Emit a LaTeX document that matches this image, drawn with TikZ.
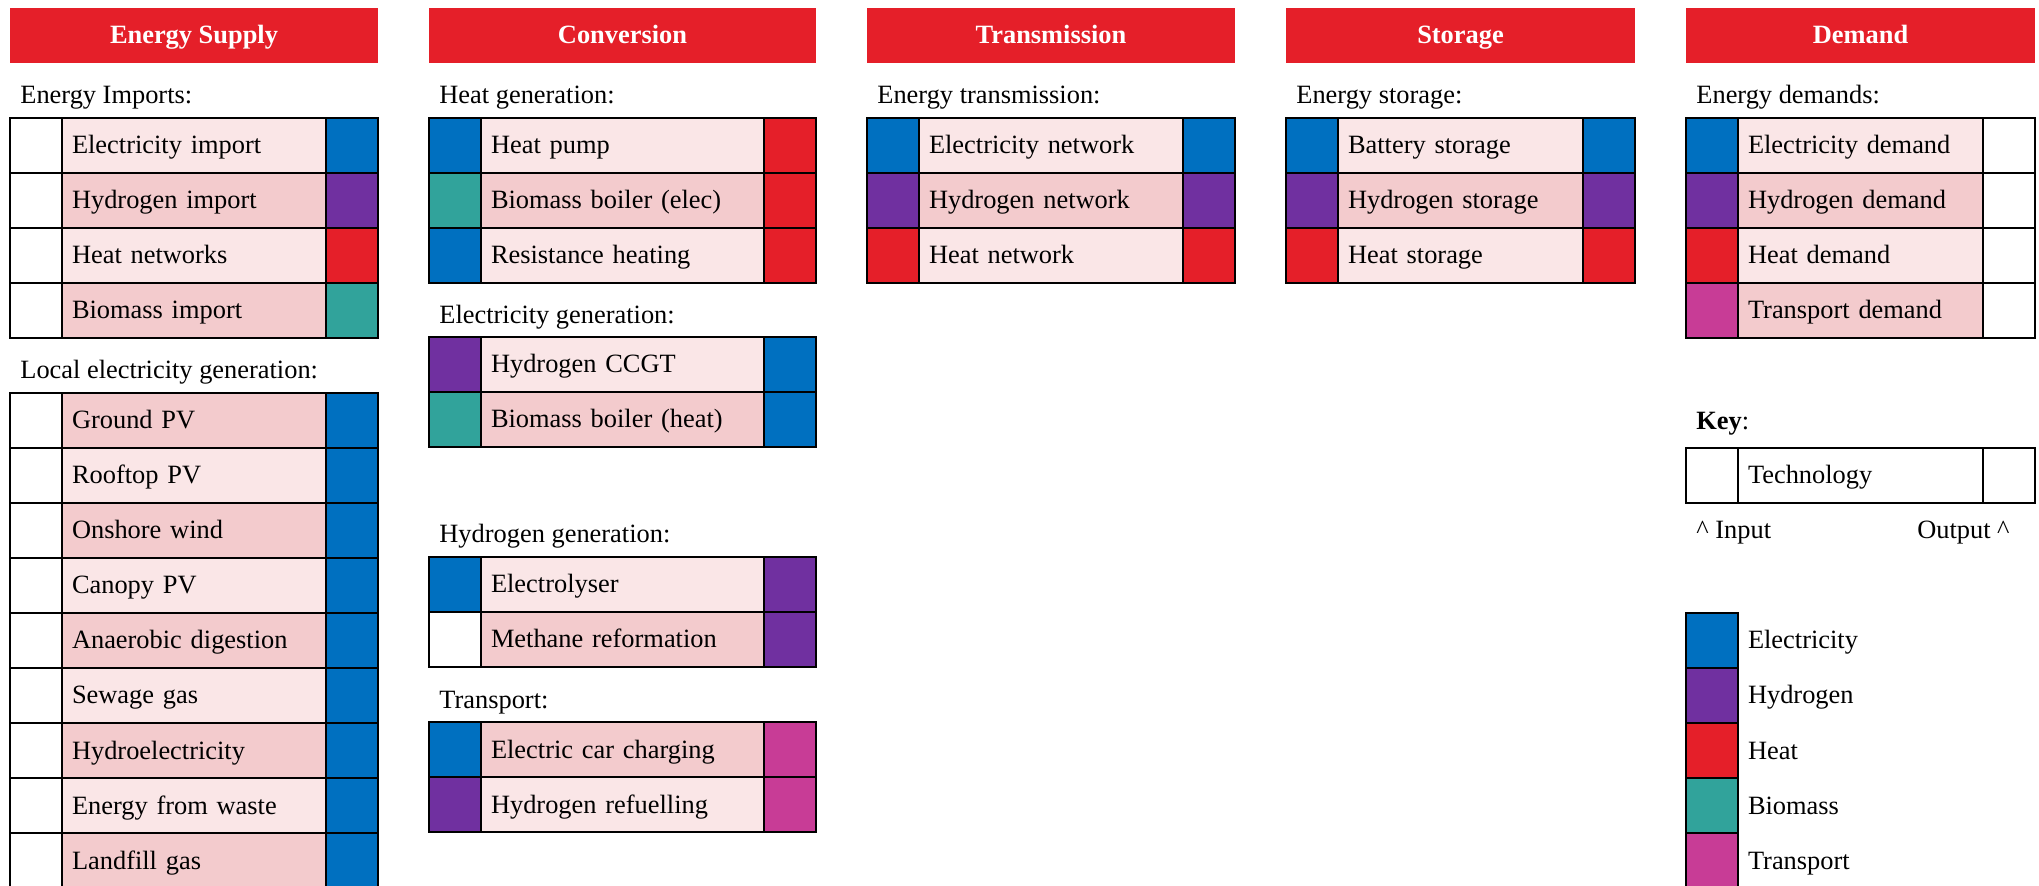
\documentclass[tikz,border=0pt]{standalone}
\usepackage{fontspec}
\setmainfont{Liberation Serif}
\usepackage{xcolor}
\usepackage{tikz}
\usetikzlibrary{positioning}
\definecolor{hdrred}{HTML}{E51F29}
\definecolor{elecblue}{HTML}{0070C0}
\definecolor{hydpurple}{HTML}{7030A0}
\definecolor{heatred}{HTML}{E51F29}
\definecolor{bioteal}{HTML}{31A39B}
\definecolor{transpink}{HTML}{C83C96}
\definecolor{rowlight}{HTML}{FAE6E7}
\definecolor{rowdark}{HTML}{F3CBCD}
\tikzset{
  basefont/.style={font=\fontsize{13.2pt}{16pt}\selectfont},
  header/.style={basefont,fill=hdrred,text=white,font=\fontsize{13.2pt}{16pt}\selectfont\bfseries,
    minimum height=27.5pt,inner sep=0pt,outer sep=0pt,anchor=north west,
    text height=0.95em,text depth=0.1em},
  grouplabel/.style={basefont,inner sep=0pt,anchor=base west},
  incell/.style={draw,line width=1.2pt,minimum width=26pt,minimum height=27.5pt,
    inner sep=0pt,outer sep=0pt},
  midcell/.style={basefont,draw,line width=1.2pt,minimum height=27.5pt,inner xsep=5pt,
    inner ysep=0pt,outer sep=0pt,align=left,text height=0.95em,text depth=0.1em},
  legtext/.style={basefont,inner xsep=5pt,inner ysep=0pt,outer sep=0pt,
    text height=0.95em,text depth=0.1em}
}
% one block of technology rows: prefix, x, y, middle width (px), rows
\newcommand{\techlist}[5]{%
  \pgfmathsetmacro{\midw}{#4/2}
  \pgfmathsetmacro{\txtw}{#4/2-10}
  \foreach \txt/\cin/\shd/\cout [count=\i from 0] in {#5} {
    \node[incell,fill=\cin,anchor=north west] (#1-\i-in) at (#2,{#3+55*\i}) {};
    \node[midcell,fill=\shd,minimum width=\midw pt,text width=\txtw pt,
      right=0pt of #1-\i-in] (#1-\i) {\txt};
    \node[incell,fill=\cout,right=0pt of #1-\i] (#1-\i-out) {};
  }}

\begin{document}
\begin{tikzpicture}[x=0.5pt,y=-0.5pt]
\useasboundingbox (0,0) rectangle (2039,886);

% column headers
\node[header,minimum width=184pt] (supply) at (10,8) {Energy Supply};
\node[header,minimum width=193.5pt] (conv) at (429,8) {Conversion};
\node[header,minimum width=184pt] (trans) at (867,8) {Transmission};
\node[header,minimum width=174.5pt] (stor) at (1286,8) {Storage};
\node[header,minimum width=174.5pt] (dem) at (1686,8) {Demand};

% energy supply
\node[grouplabel] (implbl) at (20,103.5) {Energy Imports:};
\techlist{imp}{10}{118}{264}{Electricity import/white/rowlight/elecblue,
  Hydrogen import/white/rowdark/hydpurple,
  Heat networks/white/rowlight/heatred,
  Biomass import/white/rowdark/bioteal}
\node[grouplabel] (loclbl) at (20,378.5) {Local electricity generation:};
\techlist{loc}{10}{393}{264}{Ground PV/white/rowdark/elecblue,
  Rooftop PV/white/rowlight/elecblue,
  Onshore wind/white/rowdark/elecblue,
  Canopy PV/white/rowlight/elecblue,
  Anaerobic digestion/white/rowdark/elecblue,
  Sewage gas/white/rowlight/elecblue,
  Hydroelectricity/white/rowdark/elecblue,
  Energy from waste/white/rowlight/elecblue,
  Landfill gas/white/rowdark/elecblue}

% conversion
\node[grouplabel] (heatlbl) at (439,103.5) {Heat generation:};
\techlist{heat}{429}{118}{283}{Heat pump/elecblue/rowlight/heatred,
  Biomass boiler (elec)/bioteal/rowdark/heatred,
  Resistance heating/elecblue/rowlight/heatred}
\node[grouplabel] (eleclbl) at (439,323.5) {Electricity generation:};
\techlist{elec}{429}{337}{283}{Hydrogen CCGT/hydpurple/rowlight/elecblue,
  Biomass boiler (heat)/bioteal/rowdark/elecblue}
\node[grouplabel] (hydlbl) at (439,542.5) {Hydrogen generation:};
\techlist{hyd}{429}{557}{283}{Electrolyser/elecblue/rowlight/hydpurple,
  Methane reformation/white/rowdark/hydpurple}
\node[grouplabel] (trplbl) at (439,708.5) {Transport:};
\techlist{trp}{429}{722}{283}{Electric car charging/elecblue/rowdark/transpink,
  Hydrogen refuelling/hydpurple/rowlight/transpink}

% transmission
\node[grouplabel] (netlbl) at (877,103.5) {Energy transmission:};
\techlist{net}{867}{118}{264}{Electricity network/elecblue/rowlight/elecblue,
  Hydrogen network/hydpurple/rowdark/hydpurple,
  Heat network/heatred/rowlight/heatred}

% storage
\node[grouplabel] (storlbl) at (1296,103.5) {Energy storage:};
\techlist{sto}{1286}{118}{245}{Battery storage/elecblue/rowlight/elecblue,
  Hydrogen storage/hydpurple/rowdark/hydpurple,
  Heat storage/heatred/rowlight/heatred}

% demand
\node[grouplabel] (demlbl) at (1696,103.5) {Energy demands:};
\techlist{dmd}{1686}{118}{245}{Electricity demand/elecblue/rowlight/white,
  Hydrogen demand/hydpurple/rowdark/white,
  Heat demand/heatred/rowlight/white,
  Transport demand/transpink/rowdark/white}

% key
\node[grouplabel] (keylbl) at (1696,429.5) {\textbf{Key}:};
\techlist{key}{1686}{448}{245}{Technology/white/white/white}
\node[grouplabel] (inlbl) at (1696,538.5) {\textasciicircum{} Input};
\node[grouplabel,anchor=base east] (outlbl) at (2010,538.5) {Output \textasciicircum};

% legend
\foreach \name/\col [count=\i from 0] in {Electricity/elecblue,Hydrogen/hydpurple,
    Heat/heatred,Biomass/bioteal,Transport/transpink} {
  \node[incell,fill=\col,anchor=north west] (leg-\i) at (1686,{613+55*\i}) {};
  \node[legtext,anchor=west,right=0pt of leg-\i] (leg-\i-txt) {\name};
}
\end{tikzpicture}
\end{document}
